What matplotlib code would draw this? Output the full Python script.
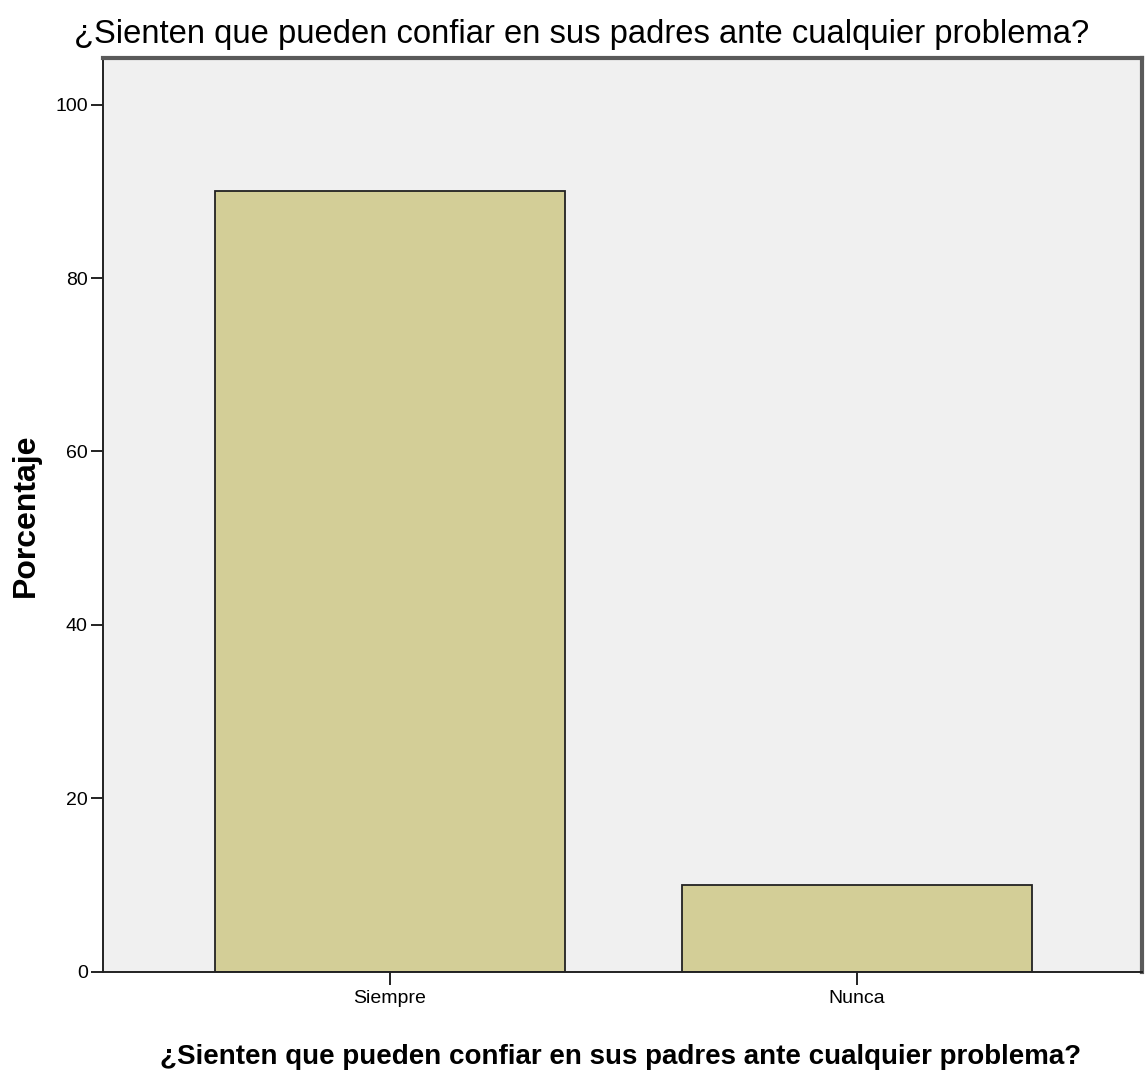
import matplotlib
matplotlib.use("Agg")
import matplotlib.pyplot as plt

# data
categories = ["Siempre", "Nunca"]
percentages = [90, 10]
y_ticks = [0, 20, 40, 60, 80, 100]

question = "¿Sienten que pueden confiar en sus padres ante cualquier problema?"
font = "Liberation Sans"

W, H = 1145, 1075
fig = plt.figure(figsize=(W / 100, H / 100), dpi=100)
# axes box in pixels: x 103..1142, y 58..971.5
ax = fig.add_axes([103 / W, 1 - 971.5 / H, 1039 / W, 913.5 / H])
ax.set_facecolor("#F0F0F0")

x = list(range(len(categories)))
ax.bar(x, percentages, width=0.75, color="#D3CE97", edgecolor="#222222", linewidth=1.3, zorder=2)

ax.set_xlim(-0.6146, 1.61)
ax.set_ylim(0, 105.4)
ax.set_yticks(y_ticks)
ax.set_yticklabels([str(t) for t in y_ticks], fontfamily=font, fontsize=14)
ax.set_xticks(x)
ax.set_xticklabels(categories, fontfamily=font, fontsize=14)
ax.tick_params(axis="both", length=9, width=1.4, color="#222222", pad=2)
ax.tick_params(axis="x", pad=4)

for s in ax.spines.values():
    s.set_color("#222222")
    s.set_linewidth(1.4)
ax.spines["top"].set_color("#5a5a5a")
ax.spines["top"].set_linewidth(3)
ax.spines["right"].set_color("#5a5a5a")
ax.spines["right"].set_linewidth(3)

fig.text(26 / W, 1 - 515 / H, "Porcentaje", rotation=90, ha="center", va="center",
         fontfamily=font, fontweight="bold", fontsize=23)
fig.text(621 / W, 1 - 1057 / H, question, ha="center", va="center",
         fontfamily=font, fontweight="bold", fontsize=20)
fig.text(582 / W, 1 - 35 / H, question, ha="center", va="center",
         fontfamily=font, fontsize=23.6)

fig.savefig("out.png", dpi=100)
